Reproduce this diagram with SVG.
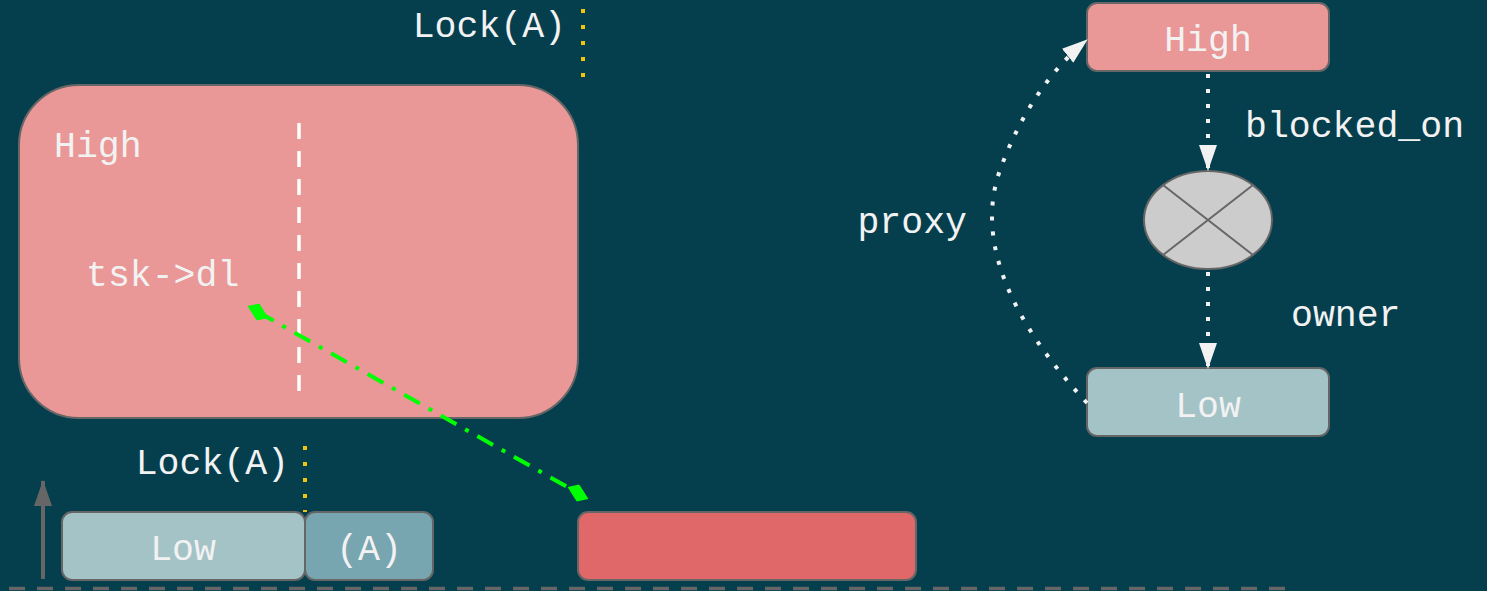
<svg xmlns="http://www.w3.org/2000/svg" width="1487" height="591" viewBox="0 0 1487 591">
<style>
.t{font-family:"Liberation Mono","Courier New",monospace;font-size:36.5px;fill:#f2f2f2}
.m{text-anchor:middle}
.e{text-anchor:end}
.box{stroke:#666;stroke-width:2}
.dot{fill:none;stroke:#f2f2f2;stroke-width:4;stroke-dasharray:4 11}
.lock{fill:none;stroke:#f2c30f;stroke-width:4;stroke-dasharray:4 12}
</style>
<defs>
<marker id="wa" viewBox="0 0 26 18" refX="25" refY="9" markerWidth="26" markerHeight="18" markerUnits="userSpaceOnUse" orient="auto">
<path d="M0,0 L26,9 L0,18 Z" fill="#f2f2f2"/>
</marker>
<marker id="ga" viewBox="0 0 26 18" refX="25" refY="9" markerWidth="26" markerHeight="18" markerUnits="userSpaceOnUse" orient="auto">
<path d="M0,0 L26,9 L0,18 Z" fill="#666"/>
</marker>
<marker id="gd" viewBox="0 0 24 16" refX="12" refY="8" markerWidth="24" markerHeight="16" markerUnits="userSpaceOnUse" orient="auto">
<path d="M0,8 L9,0 L24,8 L15,16 Z" fill="#00ff00"/>
</marker>
</defs>
<rect width="1487" height="591" fill="#053f4e"/>

<g id="bigHigh">
<rect class="box" x="19" y="85" width="559" height="333" rx="60" fill="#e99797"/>
<text class="t" x="54" y="157">High</text>
<text class="t" x="86" y="286">tsk-&gt;dl</text>
<line x1="299" y1="123" x2="299" y2="391" stroke="#fff" stroke-width="3.5" stroke-dasharray="16 12"/>
</g>

<g id="lockTop">
<text class="t e" x="566" y="37">Lock(A)</text>
<line class="lock" x1="583" y1="9" x2="583" y2="78"/>
</g>

<g id="lockBottom">
<text class="t e" x="289" y="474">Lock(A)</text>
<line class="lock" x1="305" y1="446" x2="305" y2="512"/>
</g>

<g id="lowBar">
<rect class="box" x="62" y="512" width="243" height="68" rx="10" fill="#a3c3c7"/>
<text class="t m" x="183" y="560">Low</text>
</g>
<g id="aBar">
<rect class="box" x="305" y="512" width="128" height="68" rx="10" fill="#77a5b0"/>
<text class="t m" x="369" y="560">(A)</text>
</g>
<g id="redBar">
<rect class="box" x="578" y="512" width="338" height="68" rx="10" fill="#e06868"/>
</g>

<g id="axis">
<line x1="43" y1="579" x2="43" y2="481" stroke="#666" stroke-width="4" marker-end="url(#ga)"/>
<line x1="9" y1="588.5" x2="1285" y2="588.5" stroke="#666" stroke-width="3.5" stroke-dasharray="16 12"/>
</g>

<g id="rHigh">
<rect class="box" x="1087" y="3" width="242" height="68" rx="10" fill="#e99797"/>
<text class="t m" x="1208" y="51">High</text>
</g>
<g id="lock">
<ellipse class="box" cx="1208" cy="220" rx="64" ry="49" fill="#cccccc"/>
<line x1="1163" y1="185" x2="1253" y2="255" stroke="#666" stroke-width="2"/>
<line x1="1253" y1="185" x2="1163" y2="255" stroke="#666" stroke-width="2"/>
</g>
<g id="rLow">
<rect class="box" x="1087" y="368" width="242" height="68" rx="10" fill="#a3c3c7"/>
<text class="t m" x="1208" y="417">Low</text>
</g>

<g id="connectors">
<line class="dot" x1="1208" y1="74" x2="1208" y2="170" marker-end="url(#wa)"/>
<line class="dot" x1="1208" y1="272" x2="1208" y2="368" marker-end="url(#wa)"/>
<path class="dot" d="M1087,403 C1010,320 975,240 1000,170 C1020,115 1050,70 1087,40" marker-end="url(#wa)"/>
<line x1="258" y1="312" x2="578" y2="493" stroke="#00ff00" stroke-width="4" stroke-dasharray="18 10 4 10" marker-start="url(#gd)" marker-end="url(#gd)"/>
<text class="t" x="1245" y="137">blocked_on</text>
<text class="t" x="1291" y="326">owner</text>
<text class="t e" x="967" y="233">proxy</text>
</g>
</svg>
